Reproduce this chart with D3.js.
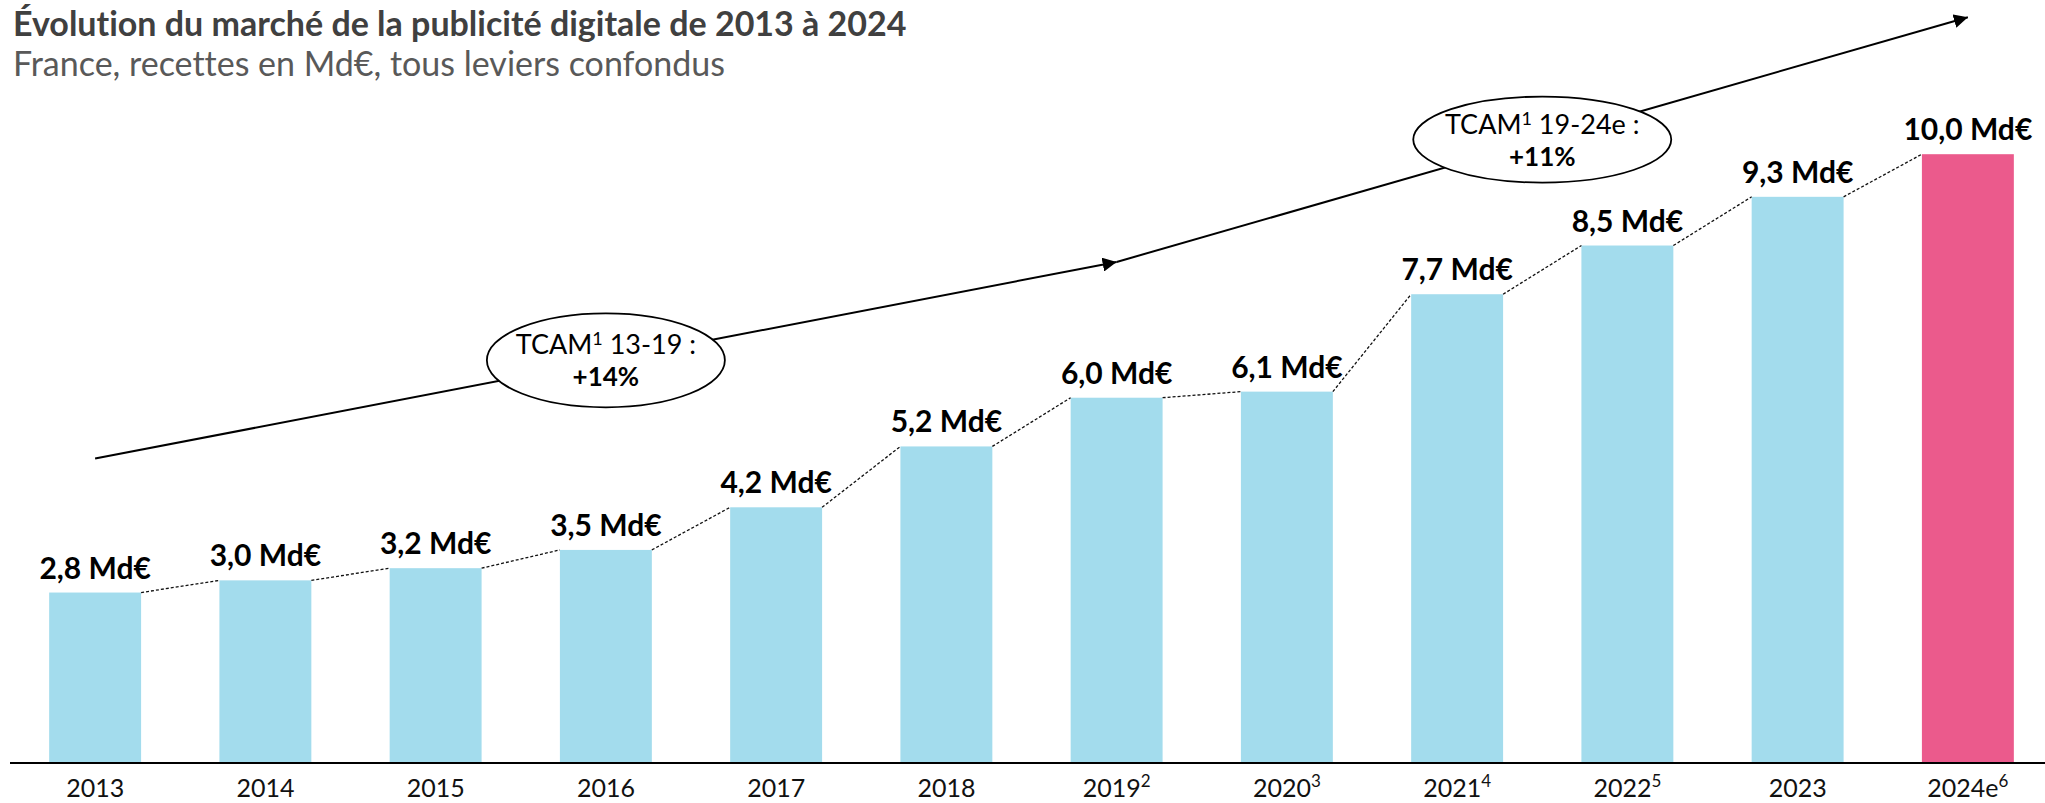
<!DOCTYPE html>
<html>
<head>
<meta charset="utf-8">
<script src="https://cdn.jsdelivr.net/npm/d3@7"></script>
<style>
  body { margin: 0; background: #fff; }
  svg { display: block; font-family: Lato, "Open Sans", sans-serif; font-variant-ligatures: none; }
</style>
</head>
<body>
<svg width="2045" height="803"></svg>
<script>
// Data
var years = ["2013", "2014", "2015", "2016", "2017", "2018", "2019", "2020", "2021", "2022", "2023", "2024e"];
var notes = ["", "", "", "", "", "", "2", "3", "4", "5", "", "6"];
var revenues = [2.8, 3.0, 3.2, 3.5, 4.2, 5.2, 6.0, 6.1, 7.7, 8.5, 9.3, 10.0];
var cagrFrom = ["2013", "2019"];
var cagrTo = ["2019", "2024e"];
var cagrPeriods = ["13-19", "19-24e"];
var cagrRates = ["+14%", "+11%"];

var svg = d3.select("svg"),
    baseline = 763;

var fr = d3.formatLocale({decimal: ",", thousands: " ", grouping: [3], currency: ["", " €"]});
var fmt = fr.format(".1f");

// Scales
var x = d3.scaleBand().domain(years).range([10, 2053]).paddingInner(0.46).paddingOuter(0.23),
    y = d3.scaleLinear().domain([0, 12.5]).range([baseline, 2]);

var data = years.map(function(d, i) { return {year: d, note: notes[i], value: revenues[i]}; });

// Title
svg.append("text")
  .attr("x", 13).attr("y", 36)
  .attr("fill", "#404040")
  .style("font-size", "34px").style("font-weight", "bold")
  .text("Évolution du marché de la publicité digitale de 2013 à 2024");
svg.append("text")
  .attr("x", 13).attr("y", 76)
  .attr("fill", "#595959")
  .style("font-size", "34px")
  .text("France, recettes en Md€, tous leviers confondus");

// Bars
svg.selectAll(".bar")
  .data(data)
  .enter().append("rect")
    .attr("class", "bar")
    .attr("x", function(d) { return x(d.year); })
    .attr("y", function(d) { return y(d.value); })
    .attr("width", x.bandwidth())
    .attr("height", function(d) { return baseline - y(d.value); })
    .attr("fill", function(d, i) { return i === data.length - 1 ? "#eb5a8c" : "#a3dced"; });

// Dashed connectors between bar tops
svg.selectAll(".link")
  .data(data.slice(1))
  .enter().append("line")
    .attr("class", "link")
    .attr("x1", function(d, i) { return x(data[i].year) + x.bandwidth(); })
    .attr("y1", function(d, i) { return y(data[i].value); })
    .attr("x2", function(d) { return x(d.year); })
    .attr("y2", function(d) { return y(d.value); })
    .attr("stroke", "#111")
    .attr("stroke-width", 1.3)
    .attr("stroke-dasharray", "3,2");

// Value labels
svg.selectAll(".val")
  .data(data)
  .enter().append("text")
    .attr("class", "val")
    .attr("x", function(d) { return x(d.year) + x.bandwidth() / 2; })
    .attr("y", function(d) { return y(d.value) - 14; })
    .attr("text-anchor", "middle")
    .style("font-size", "30px").style("font-weight", "bold")
    .attr("fill", "#000")
    .text(function(d) { return fmt(d.value) + " Md€"; });

// X axis
var xAxis = svg.append("g")
  .attr("class", "axis axis--x")
  .attr("transform", "translate(0," + baseline + ")")
  .call(d3.axisBottom(x).tickSize(0).tickSizeOuter(0));
xAxis.select(".domain")
  .attr("d", "M10,0H2045")
  .attr("stroke", "#000")
  .attr("stroke-width", 2);
xAxis.selectAll(".tick text")
  .attr("y", 34).attr("dy", null)
  .style("font-size", "25px")
  .style("font-family", "Lato, sans-serif")
  .attr("fill", "#111")
  .each(function(d, i) {
    var t = d3.select(this).text("");
    t.append("tspan").text(d);
    if (notes[i]) {
      t.append("tspan").attr("dy", -10).style("font-size", "17px").text(notes[i]);
    }
  });

// CAGR arrows
var defs = svg.append("defs");
defs.append("marker")
  .attr("id", "arrow")
  .attr("viewBox", "0 0 10 10")
  .attr("refX", 10).attr("refY", 5)
  .attr("markerWidth", 7).attr("markerHeight", 7)
  .attr("markerUnits", "strokeWidth")
  .attr("orient", "auto")
  .append("path").attr("d", "M0,0L10,5L0,10Z").attr("fill", "#000");

var levels = [5.0, 8.23, 12.25];   // heights of the trend line, in Md€ units
var cx = function(yr) { return x(yr) + x.bandwidth() / 2; };

cagrFrom.forEach(function(f, i) {
  var x1 = cx(f), y1 = y(levels[i]), x2 = cx(cagrTo[i]), y2 = y(levels[i + 1]);
  svg.append("line")
    .attr("x1", x1).attr("y1", y1).attr("x2", x2).attr("y2", y2)
    .attr("stroke", "#000").attr("stroke-width", 2)
    .attr("marker-end", "url(#arrow)");

  var mx = (x1 + x2) / 2, my = (y1 + y2) / 2;
  var g = svg.append("g").attr("transform", "translate(" + mx + "," + my + ")");
  g.append("ellipse")
    .attr("rx", i === 0 ? 119 : 129).attr("ry", i === 0 ? 47 : 43)
    .attr("fill", "#fff").attr("stroke", "#000").attr("stroke-width", 1.8);
  var t1 = g.append("text")
    .attr("y", -6).attr("text-anchor", "middle")
    .style("font-size", "27px").attr("fill", "#000");
  t1.append("tspan").text("TCAM");
  t1.append("tspan").attr("dy", -9).style("font-size", "18px").text("1");
  t1.append("tspan").attr("dy", 9).text(" " + cagrPeriods[i] + " :");
  g.append("text")
    .attr("y", 26).attr("text-anchor", "middle")
    .style("font-size", "26px").style("font-weight", "bold").attr("fill", "#000")
    .text(cagrRates[i]);
});
</script>
</body>
</html>
